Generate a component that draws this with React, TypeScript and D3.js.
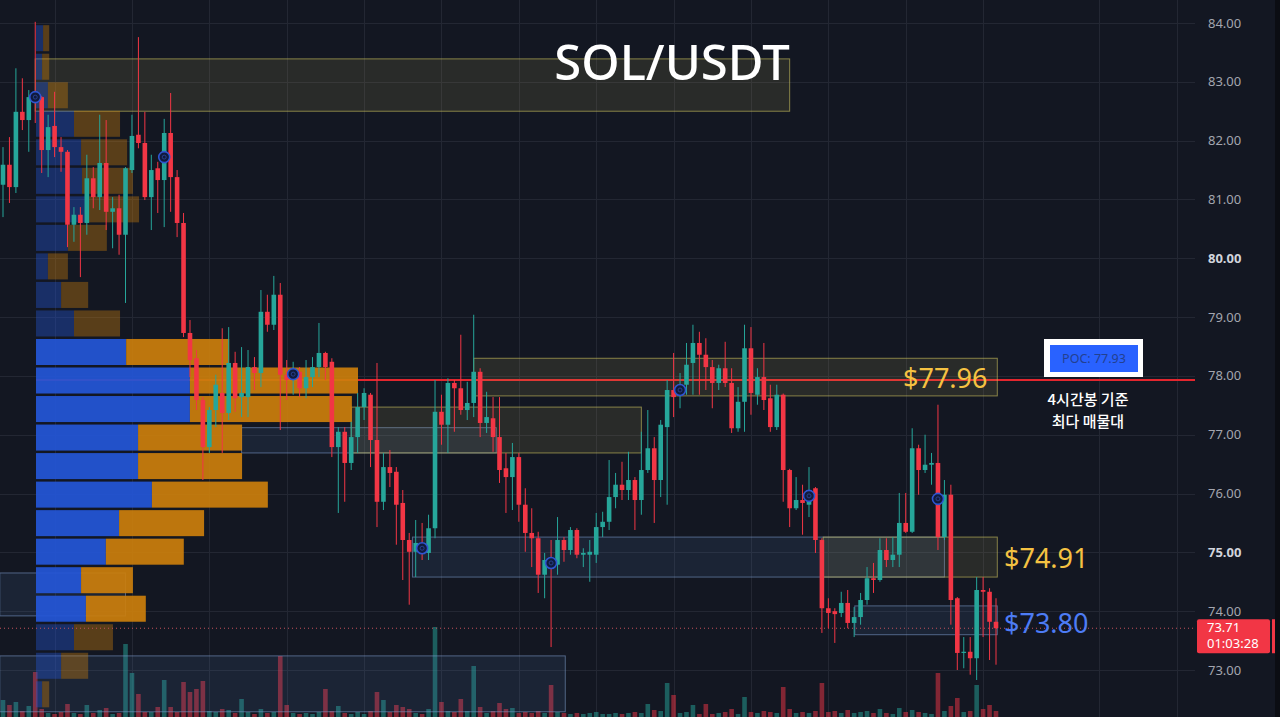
import React, { useEffect, useRef } from "react";
import * as d3 from "d3";

const W = 1280, H = 717;

// 4h candles: [open, high, low, close]
const candles: [number, number, number, number][] = [
  [81.25, 81.89, 80.70, 81.59], [81.59, 82.06, 80.94, 81.21], [81.21, 83.23, 81.11, 82.49], [82.49, 83.06, 82.18, 82.35],
  [82.35, 82.86, 81.81, 82.74], [82.74, 84.02, 82.30, 82.71], [82.74, 82.76, 81.45, 81.84], [81.84, 82.44, 81.38, 82.23],
  [82.25, 82.83, 81.72, 81.89], [81.89, 82.06, 81.47, 81.81], [81.81, 81.84, 80.19, 80.57], [80.57, 80.87, 80.28, 80.74],
  [80.74, 80.87, 79.68, 80.60], [80.60, 81.76, 80.40, 81.36], [81.36, 81.55, 80.85, 81.04], [81.04, 82.44, 80.82, 81.62],
  [81.62, 82.35, 80.48, 80.79], [80.79, 81.04, 80.17, 80.85], [80.85, 81.08, 80.06, 80.40], [80.40, 81.55, 79.24, 81.53],
  [81.50, 82.44, 81.45, 82.08], [82.10, 83.76, 81.87, 81.96], [81.96, 82.49, 80.99, 81.04], [81.04, 81.76, 80.48, 81.50],
  [81.53, 81.64, 80.77, 81.33], [81.33, 82.37, 80.53, 82.13], [82.13, 82.81, 80.79, 81.38], [81.38, 81.50, 80.36, 80.60],
  [80.60, 80.77, 78.66, 78.73], [78.73, 78.95, 77.98, 78.27], [78.30, 78.44, 77.42, 77.59], [77.59, 77.64, 76.23, 76.79],
  [76.79, 77.47, 76.69, 77.42], [77.42, 78.02, 77.13, 77.85], [77.71, 78.81, 76.69, 77.37], [77.37, 78.83, 77.25, 78.22],
  [78.22, 78.41, 77.39, 77.62], [77.64, 78.49, 77.30, 77.71], [77.64, 78.44, 77.30, 78.15], [78.15, 78.32, 77.76, 78.05],
  [78.05, 79.46, 77.81, 79.09], [79.09, 79.38, 78.75, 78.87], [78.87, 79.70, 78.78, 79.38], [79.38, 79.58, 77.08, 78.02],
  [78.02, 78.27, 77.59, 77.93], [77.98, 78.24, 77.68, 78.10], [78.07, 78.15, 77.64, 77.79], [77.79, 78.27, 77.62, 77.98],
  [77.98, 78.32, 77.81, 78.15], [78.15, 78.90, 77.98, 78.39], [78.39, 78.41, 77.93, 78.15], [78.24, 78.30, 76.62, 76.79],
  [76.79, 77.13, 75.67, 77.05], [77.05, 77.13, 75.86, 76.52], [76.52, 77.22, 76.40, 76.96], [76.96, 77.71, 76.69, 77.47],
  [77.47, 77.79, 77.25, 77.71], [77.68, 77.71, 76.45, 76.91], [76.91, 78.22, 75.43, 75.86], [75.86, 76.69, 75.72, 76.45],
  [76.45, 76.74, 76.11, 76.35], [76.37, 76.45, 75.13, 75.81], [75.84, 76.06, 74.53, 75.21], [75.21, 75.33, 74.11, 75.01],
  [75.01, 75.55, 74.58, 75.16], [75.13, 75.50, 74.87, 75.04], [74.99, 75.64, 74.87, 75.41], [75.41, 77.93, 75.24, 77.39],
  [77.39, 77.68, 76.83, 77.17], [77.17, 77.96, 76.69, 77.88], [77.88, 77.93, 77.05, 77.79], [77.79, 78.70, 77.34, 77.42],
  [77.42, 77.90, 77.25, 77.54], [77.54, 79.04, 77.30, 78.07], [78.07, 78.13, 76.96, 77.20], [77.20, 77.73, 77.03, 77.30],
  [77.28, 77.64, 76.71, 76.96], [76.96, 77.64, 76.18, 76.40], [76.43, 76.69, 75.67, 76.28], [76.28, 76.86, 75.72, 76.62],
  [76.62, 76.69, 75.52, 75.81], [75.81, 76.09, 75.01, 75.33], [75.33, 75.75, 74.75, 75.24], [75.24, 75.35, 74.31, 74.62],
  [74.62, 74.99, 74.22, 74.87], [74.87, 75.21, 73.39, 74.75], [74.79, 75.60, 74.62, 75.21], [75.21, 75.26, 74.84, 75.04],
  [75.04, 75.43, 74.96, 75.38], [75.38, 75.41, 74.90, 74.96], [74.96, 75.07, 74.75, 74.99], [74.96, 75.21, 74.50, 75.01],
  [74.96, 75.67, 74.82, 75.43], [75.43, 75.69, 75.26, 75.52], [75.52, 76.57, 75.38, 75.94], [75.94, 76.35, 75.75, 76.15],
  [76.15, 76.54, 75.89, 76.06], [76.06, 76.71, 75.89, 76.23], [76.23, 76.28, 75.38, 75.89], [75.89, 77.05, 75.64, 76.40],
  [76.40, 77.42, 76.35, 76.77], [76.77, 76.96, 75.50, 76.23], [76.23, 77.25, 75.94, 77.17], [77.13, 77.93, 75.81, 77.76],
  [77.76, 78.39, 77.30, 77.64], [77.73, 78.05, 77.45, 77.85], [77.85, 78.56, 77.68, 78.19], [78.22, 78.87, 77.68, 78.56],
  [78.56, 78.75, 77.68, 78.36], [78.36, 78.64, 77.76, 78.15], [78.15, 78.27, 77.45, 77.88], [77.88, 78.19, 77.76, 78.13],
  [78.13, 78.58, 77.81, 77.88], [77.88, 78.13, 77.03, 77.11], [77.11, 77.81, 77.05, 77.56], [77.56, 78.87, 77.05, 78.47],
  [78.47, 78.83, 77.34, 77.71], [77.68, 78.13, 77.51, 77.98], [77.98, 78.56, 77.42, 77.59], [77.62, 77.85, 77.05, 77.13],
  [77.13, 77.85, 77.08, 77.68], [77.68, 77.70, 75.86, 76.40], [76.40, 76.42, 75.43, 75.75], [75.75, 76.28, 75.72, 75.89],
  [75.89, 76.15, 75.30, 75.84], [75.81, 76.45, 75.60, 76.06], [76.09, 76.11, 74.99, 75.21], [75.21, 75.24, 73.63, 74.05],
  [74.05, 74.22, 73.71, 73.97], [74.00, 74.05, 73.46, 73.95], [73.97, 74.33, 73.90, 74.14], [74.14, 74.36, 73.71, 73.80],
  [73.80, 74.07, 73.56, 73.90], [73.90, 74.31, 73.77, 74.19], [74.19, 74.75, 74.11, 74.56], [74.56, 74.82, 74.31, 74.53],
  [74.53, 75.24, 74.50, 75.04], [75.04, 75.24, 74.75, 74.87], [74.87, 75.26, 74.75, 74.96], [74.96, 76.01, 74.75, 75.50],
  [75.50, 76.01, 75.33, 75.35], [75.35, 77.11, 75.33, 76.77], [76.77, 76.83, 75.98, 76.40], [76.40, 77.00, 76.35, 76.49],
  [76.49, 76.69, 76.15, 76.52], [76.52, 77.51, 75.04, 75.26], [75.26, 76.23, 75.21, 75.98], [75.98, 76.15, 73.77, 74.19],
  [74.22, 74.24, 73.00, 73.29], [73.29, 73.56, 73.03, 73.31], [73.31, 73.56, 72.92, 73.20], [73.20, 74.58, 72.83, 74.36],
  [74.36, 74.58, 73.56, 74.33], [74.33, 74.39, 73.17, 73.82], [73.82, 74.22, 73.09, 73.71],
];

// volume per candle (same order)
const volumes = [
  17, 12, 15, 6, 11, 45, 8, 4, 3, 5, 13, 4, 3, 12, 4, 7, 9, 3, 4, 73,
  44, 23, 5, 5, 10, 37, 10, 5, 35, 25, 28, 36, 6, 5, 8, 7, 4, 18, 5, 3,
  8, 4, 5, 61, 12, 4, 3, 4, 3, 5, 28, 6, 11, 4, 3, 5, 3, 6, 25, 17,
  5, 12, 10, 8, 4, 3, 8, 90, 15, 6, 5, 18, 6, 51, 10, 4, 6, 14, 8, 9,
  4, 5, 4, 6, 4, 32, 5, 4, 3, 4, 3, 4, 5, 3, 3, 4, 3, 4, 5, 4,
  13, 7, 6, 34, 22, 4, 5, 12, 3, 13, 3, 4, 5, 8, 3, 20, 5, 4, 6, 5,
  4, 30, 8, 4, 5, 4, 6, 34, 5, 6, 4, 7, 4, 5, 6, 4, 8, 4, 3, 9,
  5, 7, 5, 4, 3, 44, 6, 11, 19, 5, 6, 32, 8, 12, 6,
];

// visible range volume profile, rows from the top
const profileTop = 83.98;
const profileStep = 0.485;
const profileBuy = [2.2, 1.9, 3.7, 11.8, 14.0, 14.3, 15.5, 9.9, 3.7, 7.8, 11.8, 28.0, 47.8, 47.8, 31.7, 31.7, 36.0, 25.8, 21.7, 14.0, 15.5, 11.8, 7.8, 1.9];
const profileSell = [1.9, 2.2, 6.2, 14.3, 14.3, 15.8, 16.5, 12.1, 6.2, 8.4, 14.3, 32.0, 52.2, 50.3, 32.3, 32.3, 36.0, 26.4, 24.2, 16.1, 18.6, 12.1, 8.4, 2.2];
const valueArea = [11, 20];

const pocPrice = 77.93;
const lastPrice = 73.71;
const countdown = "01:03:28";

// zones: candle index range + price range
const zones = [
  { from: 5, to: 122, top: 83.39, bottom: 82.50, kind: "supply" },
  { from: -0.5, to: 19, top: 74.65, bottom: 73.92, kind: "demand" },
  { from: 37, to: 76.5, top: 77.12, bottom: 76.69, kind: "demand" },
  { from: 54, to: 99, top: 77.47, bottom: 76.69, kind: "supply" },
  { from: 73, to: 154.2, top: 78.30, bottom: 77.66, kind: "supply" },
  { from: 63.5, to: 146, top: 75.26, bottom: 74.58, kind: "demand" },
  { from: 127.2, to: 154.2, top: 75.26, bottom: 74.58, kind: "supply" },
  { from: 132.1, to: 154.2, top: 74.09, bottom: 73.60, kind: "demand" },
  { from: -0.5, to: 87.2, top: 73.24, bottom: 72.29, kind: "demand" },
];

const markers = [
  { i: 5, p: 82.74 }, { i: 25, p: 81.72 }, { i: 45, p: 78.03 }, { i: 65, p: 75.07 },
  { i: 85, p: 74.82 }, { i: 105, p: 77.76 }, { i: 125, p: 75.96 }, { i: 145, p: 75.91 },
];

const levelLabels = [
  { text: "$77.96", p: 77.96, x: 903, color: "#f5c242" },
  { text: "$74.91", p: 74.91, x: 1004, color: "#f5c242" },
  { text: "$73.80", p: 73.80, x: 1004, color: "#4d7cf5" },
];

const noteLines = ["4시간봉 기준", "최다 매물대"];

const priceTicks = [73, 74, 75, 76, 77, 78, 79, 80, 81, 82, 83, 84];
const boldTicks = [75, 80];
const gridCandles = [8, 20, 32, 44, 56, 68, 80, 92, 104, 116, 128, 140, 152, 170, 182];

const UP = "#26a69a", DOWN = "#f23645";

const draw = (node: SVGSVGElement) => {
  const svg = d3.select(node);
  svg.selectAll("*").remove();

  const x = d3.scaleLinear().domain([0, candles.length - 1]).range([3, 996]);
  const y = d3.scaleLinear().domain([73, 84]).range([670, 23]);
  const vy = d3.scaleLinear().domain([0, 100]).range([H, H - 100]);
  const pw = d3.scaleLinear().domain([0, 100]).range([0, 322]);
  const bw = 4.6;
  const plotRight = 1195;

  svg.append("rect").attr("width", W).attr("height", H).attr("fill", "#131722");
  svg.append("rect").attr("x", 1275).attr("width", 5).attr("height", H).attr("fill", "#0b0d13");

  // grid
  const grid = svg.append("g").attr("stroke", "#232733").attr("stroke-width", 1);
  grid.selectAll("line.h").data(priceTicks).join("line")
    .attr("x1", 0).attr("x2", plotRight)
    .attr("y1", d => Math.round(y(d)) + 0.5).attr("y2", d => Math.round(y(d)) + 0.5);
  grid.selectAll("line.v").data(gridCandles).join("line")
    .attr("y1", 0).attr("y2", H)
    .attr("x1", d => Math.round(x(d)) + 0.5).attr("x2", d => Math.round(x(d)) + 0.5);

  // volume bars
  svg.append("g").selectAll("rect").data(volumes).join("rect")
    .attr("x", (_, i) => x(i) - bw / 2).attr("width", bw)
    .attr("y", d => vy(d)).attr("height", d => H - vy(d))
    .attr("fill", (_, i) => candles[i][3] >= candles[i][0] ? UP : DOWN)
    .attr("opacity", 0.5);

  // POC line
  svg.append("line")
    .attr("x1", 36).attr("x2", plotRight)
    .attr("y1", y(pocPrice)).attr("y2", y(pocPrice))
    .attr("stroke", "#e3262e").attr("stroke-width", 2);

  // zones
  svg.append("g").selectAll("rect").data(zones).join("rect")
    .attr("x", d => x(d.from)).attr("width", d => x(d.to) - x(d.from))
    .attr("y", d => y(d.top)).attr("height", d => y(d.bottom) - y(d.top))
    .attr("fill", d => d.kind === "supply" ? "rgba(190,180,90,0.13)" : "rgba(90,130,200,0.12)")
    .attr("stroke", d => d.kind === "supply" ? "rgba(205,195,95,0.6)" : "rgba(130,160,210,0.55)")
    .attr("stroke-width", 1);

  // volume profile
  const px0 = 36;
  const rows = svg.append("g").selectAll("g").data(profileBuy).join("g")
    .attr("opacity", (_, i) => i >= valueArea[0] && i <= valueArea[1] ? 0.92 : 0.38);
  const rowY = (i: number) => y(profileTop - i * profileStep) + 1;
  const rowH = (i: number) => y(profileTop - (i + 1) * profileStep) - y(profileTop - i * profileStep) - 2.5;
  rows.append("rect")
    .attr("x", px0).attr("y", (_, i) => rowY(i)).attr("height", (_, i) => rowH(i))
    .attr("width", d => pw(d)).attr("fill", "#2456d8");
  rows.append("rect")
    .attr("x", d => px0 + pw(d)).attr("y", (_, i) => rowY(i)).attr("height", (_, i) => rowH(i))
    .attr("width", (_, i) => pw(profileSell[i])).attr("fill", "#cc7f0c");

  // last price dotted line
  svg.append("line")
    .attr("x1", 0).attr("x2", plotRight)
    .attr("y1", y(lastPrice)).attr("y2", y(lastPrice))
    .attr("stroke", "#c4525b").attr("stroke-width", 1).attr("stroke-dasharray", "1,3");

  // candles
  const c = svg.append("g").selectAll("g").data(candles).join("g")
    .attr("fill", d => d[3] >= d[0] ? UP : DOWN)
    .attr("stroke", d => d[3] >= d[0] ? UP : DOWN);
  c.append("line")
    .attr("x1", (_, i) => x(i)).attr("x2", (_, i) => x(i))
    .attr("y1", d => y(d[1])).attr("y2", d => y(d[2]))
    .attr("stroke-width", 1);
  c.append("rect")
    .attr("x", (_, i) => x(i) - bw / 2).attr("width", bw)
    .attr("y", d => y(Math.max(d[0], d[3])))
    .attr("height", d => Math.max(1.2, Math.abs(y(d[0]) - y(d[3]))))
    .attr("stroke", "none");

  // pivot markers
  const m = svg.append("g").selectAll("g").data(markers).join("g")
    .attr("transform", d => `translate(${x(d.i)},${y(d.p)})`);
  m.append("circle").attr("r", 5.5).attr("fill", "#101a3c").attr("stroke", "#2f55d0").attr("stroke-width", 1.6);
  m.append("circle").attr("r", 2).attr("fill", "none").attr("stroke", "#27408f").attr("stroke-width", 1);

  // title
  svg.append("text").attr("x", 672).attr("y", 80).attr("text-anchor", "middle")
    .attr("font-family", "'Noto Sans', sans-serif").attr("font-size", 49).attr("font-weight", 500)
    .attr("fill", "#ffffff").text("SOL/USDT");

  // level labels
  svg.append("g").selectAll("text").data(levelLabels).join("text")
    .attr("x", d => d.x).attr("y", d => y(d.p) + 10)
    .attr("font-family", "'Noto Sans', sans-serif").attr("font-size", 27)
    .attr("fill", d => d.color).text(d => d.text);

  // POC callout
  svg.append("rect").attr("x", 1044).attr("y", 339).attr("width", 99).attr("height", 38).attr("fill", "#ffffff");
  svg.append("rect").attr("x", 1050).attr("y", 345).attr("width", 88).attr("height", 27).attr("fill", "#2962ff");
  svg.append("text").attr("x", 1094).attr("y", 363).attr("text-anchor", "middle")
    .attr("font-family", "'Noto Sans', sans-serif").attr("font-size", 12.5)
    .attr("fill", "#23408f").text(`POC: ${pocPrice.toFixed(2)}`);
  svg.append("g").selectAll("text").data(noteLines).join("text")
    .attr("x", 1088).attr("y", (_, i) => 405 + i * 22)
    .attr("text-anchor", "middle")
    .attr("font-family", "'Noto Sans CJK KR', sans-serif").attr("font-size", 15).attr("font-weight", 500)
    .attr("fill", "#ffffff").text(d => d);

  // price axis
  svg.append("g").selectAll("text").data(priceTicks).join("text")
    .attr("x", 1208).attr("y", d => y(d) + 4.5)
    .attr("font-family", "'Noto Sans', sans-serif").attr("font-size", 13)
    .attr("font-weight", d => boldTicks.includes(d) ? 700 : 400)
    .attr("fill", d => boldTicks.includes(d) ? "#d1d4dc" : "#a3a6af")
    .text(d => d.toFixed(2));

  // last price tag
  const ty = y(lastPrice) - 9;
  svg.append("rect").attr("x", 1197).attr("y", ty).attr("width", 73).attr("height", 34).attr("rx", 2).attr("fill", DOWN);
  svg.append("rect").attr("x", 1272).attr("y", ty).attr("width", 3).attr("height", 34).attr("fill", DOWN);
  svg.append("text").attr("x", 1207).attr("y", ty + 13)
    .attr("font-family", "'Noto Sans', sans-serif").attr("font-size", 13).attr("fill", "#ffffff")
    .text(lastPrice.toFixed(2));
  svg.append("text").attr("x", 1207).attr("y", ty + 29)
    .attr("font-family", "'Noto Sans', sans-serif").attr("font-size", 13).attr("fill", "#ffffff")
    .text(countdown);
};

export default function App() {
  const ref = useRef<SVGSVGElement>(null);
  useEffect(() => {
    if (ref.current) draw(ref.current);
  }, []);
  return (
    <svg ref={ref} width={W} height={H}
      style={{ position: "fixed", left: 0, top: 0, display: "block" }} />
  );
}
